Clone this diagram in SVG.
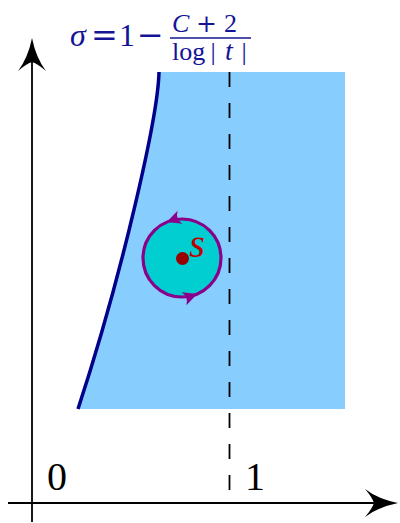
<svg xmlns="http://www.w3.org/2000/svg" width="400" height="523" viewBox="0 0 400 523">
<defs>
<style>
.ax{stroke:#000;stroke-width:1.8;fill:none}
.ah{fill:#000;stroke:none}
.lbl{font-family:"Liberation Serif","DejaVu Serif",serif;font-size:40px;fill:#000}
.f{font-family:"Liberation Serif","DejaVu Serif",serif;fill:#141496}
.it{font-style:italic}
.op{font-family:"DejaVu Serif","Liberation Serif",serif}
</style>
<path id="carr" d="M2,0 L-12,-7 Q-7,0 -12,7 Z"/>
</defs>
<rect width="400" height="523" fill="#fff"/>
<g id="region">
<path d="M78,409 C121,278 158,118 159,72 L345,72 L345,409 Z" fill="#87CEFF"/>
</g>
<g id="connectors">
<line x1="229.5" y1="72" x2="229.5" y2="491" stroke="#000" stroke-width="1.8" stroke-dasharray="15 16"/>
<path class="ax" d="M32,522 V62"/>
<path class="ah" d="M32,38 Q36,58 46,71 Q38,64 32,62 Q26,64 18,71 Q28,58 32,38 Z"/>
<path class="ax" d="M8,503 H380"/>
<path class="ah" d="M398,503 Q378,507 365,517 Q372,509 374,503 Q372,497 365,489 Q378,499 398,503 Z"/>
</g>
<g id="boundary">
<path d="M78,409 C121,278 158,118 159,72" fill="none" stroke="#00008B" stroke-width="3.5"/>
</g>
<g id="disk">
<circle cx="182" cy="258" r="39" fill="#00CED1" stroke="#8B008B" stroke-width="3.2"/>
<use href="#carr" fill="#8B008B" transform="translate(168.7,221.4) rotate(160)"/>
<use href="#carr" fill="#8B008B" transform="translate(195.3,294.6) rotate(-20)"/>
</g>
<g id="point-s">
<circle cx="182.5" cy="258.5" r="6.5" fill="#990000"/>
<text x="197" y="257" text-anchor="middle" class="lbl it" style="fill:#C00000">s</text>
</g>
<g id="label-0"><text x="57" y="490" text-anchor="middle" class="lbl">0</text></g>
<g id="label-1"><text x="255" y="490" text-anchor="middle" class="lbl">1</text></g>
<g id="formula">
<text class="f it" x="70" y="46" font-size="32">σ</text>
<text class="f op" x="91" y="46" font-size="32">=</text>
<text class="f" x="119" y="46" font-size="32">1</text>
<text class="f op" x="137" y="46" font-size="32">−</text>
<text class="f it" x="172" y="32" font-size="26">C</text>
<text class="f op" x="196" y="32" font-size="25">+</text>
<text class="f" x="224" y="32" font-size="26">2</text>
<line x1="170" y1="38" x2="251" y2="38" stroke="#141496" stroke-width="1.6"/>
<text class="f" x="172" y="60" font-size="26">log</text>
<text class="f" x="213" y="60" font-size="26" text-anchor="middle">|</text>
<text class="f it" x="229" y="60" font-size="28" text-anchor="middle">t</text>
<text class="f" x="244" y="60" font-size="26" text-anchor="middle">|</text>
</g>
</svg>
